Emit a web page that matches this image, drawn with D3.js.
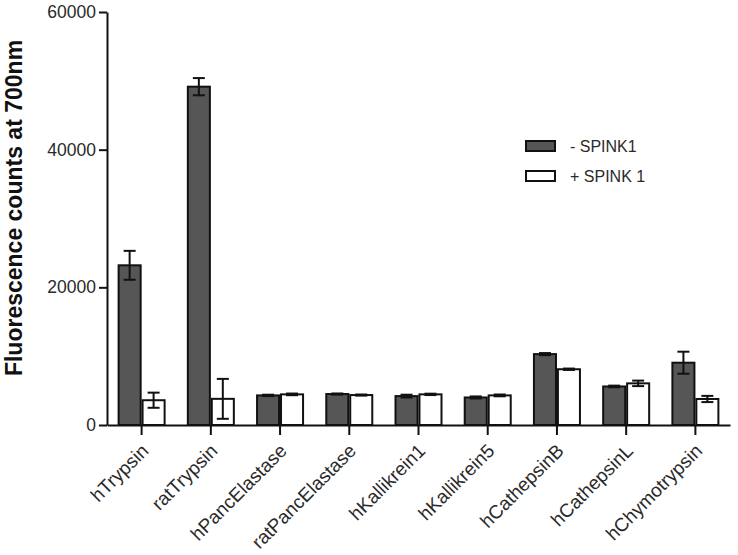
<!DOCTYPE html>
<html>
<head>
<meta charset="utf-8">
<script src="https://cdn.jsdelivr.net/npm/d3@7"></script>
<style>
  body { margin: 0; background: #fff; }
  svg { display: block; font-family: "Liberation Sans", Arial, sans-serif; }
</style>
</head>
<body>
<svg id="chart" width="738" height="555"></svg>
<script>
// enzyme names on the x axis
var categories = ["hTrypsin", "ratTrypsin", "hPancElastase", "ratPancElastase",
                  "hKallikrein1", "hKallikrein5", "hCathepsinB", "hCathepsinL", "hChymotrypsin"];
var seriesNames = ["- SPINK1", "+ SPINK 1"];

// means
var minusSpink = [23200, 49150, 4300, 4500, 4200, 4000, 10300, 5600, 9050];
var plusSpink  = [3600, 3800, 4450, 4350, 4450, 4300, 8100, 6050, 3780];
// error bar half lengths
var minusErr = [2100, 1250, 100, 80, 200, 150, 150, 120, 1600];
var plusErr  = [1100, 2900, 120, 80, 100, 130, 100, 400, 450];

var yTicks = [0, 20000, 40000, 60000];

var svg = d3.select("#chart");

var x0 = d3.scaleBand()
    .domain(categories)
    .range([107, 730])
    .padding(0);

var x1 = d3.scaleBand()
    .domain(seriesNames)
    .range([-23, 23])
    .paddingInner(0.08);

var y = d3.scaleLinear()
    .domain([0, 60000])
    .range([425, 12]);

var fills = ["#565656", "#ffffff"];

var rows = categories.map(function(c, i) {
    return [
        { cat: c, s: seriesNames[0], v: minusSpink[i], e: minusErr[i] },
        { cat: c, s: seriesNames[1], v: plusSpink[i], e: plusErr[i] }
    ];
});

// bars
var groups = svg.append("g")
    .selectAll("g")
    .data(rows)
    .enter().append("g")
    .attr("transform", function(d) { return "translate(" + (x0(d[0].cat) + x0.bandwidth() / 2) + ",0)"; });

groups.selectAll("rect")
    .data(function(d) { return d; })
    .enter().append("rect")
    .attr("x", function(d) { return x1(d.s); })
    .attr("y", function(d) { return y(d.v); })
    .attr("width", x1.bandwidth())
    .attr("height", function(d) { return y(0) - y(d.v); })
    .style("fill", function(d, i) { return fills[i]; })
    .style("stroke", "#111")
    .style("stroke-width", 2);

// error bars
var eb = groups.selectAll("g.err")
    .data(function(d) { return d; })
    .enter().append("g")
    .attr("class", "err")
    .attr("transform", function(d) { return "translate(" + (x1(d.s) + x1.bandwidth() / 2) + ",0)"; })
    .style("stroke", "#111")
    .style("stroke-width", 2);

eb.append("line")
    .attr("x1", 0).attr("x2", 0)
    .attr("y1", function(d) { return y(d.v + d.e); })
    .attr("y2", function(d) { return y(d.v - d.e); });
eb.append("line")
    .attr("x1", -6).attr("x2", 6)
    .attr("y1", function(d) { return y(d.v + d.e); })
    .attr("y2", function(d) { return y(d.v + d.e); });
eb.append("line")
    .attr("x1", -6).attr("x2", 6)
    .attr("y1", function(d) { return y(d.v - d.e); })
    .attr("y2", function(d) { return y(d.v - d.e); });

// y axis
var yAxis = svg.append("g")
    .attr("transform", "translate(107,0)")
    .call(d3.axisLeft(y).tickValues(yTicks).tickFormat(d3.format("d")).tickSize(8).tickSizeOuter(0));
yAxis.select(".domain").style("stroke", "#111").style("stroke-width", 2);
yAxis.selectAll(".tick line").style("stroke", "#111").style("stroke-width", 2);
yAxis.selectAll(".tick text")
    .attr("x", -11)
    .style("font-size", "17.5px")
    .style("fill", "#2a2a2a")
    .style("font-family", "Liberation Sans, Arial, sans-serif");

// x axis
var xAxis = svg.append("g")
    .attr("transform", "translate(0,425)")
    .call(d3.axisBottom(x0).tickSize(10).tickSizeOuter(0));
xAxis.select(".domain").style("stroke", "#111").style("stroke-width", 2);
xAxis.selectAll(".tick line").style("stroke", "#111").style("stroke-width", 2);
xAxis.selectAll(".tick text")
    .attr("x", 8)
    .attr("y", 27)
    .attr("dy", 0)
    .attr("transform", "rotate(-45 8 27)")
    .style("text-anchor", "end")
    .style("font-size", "19px")
    .style("fill", "#2a2a2a")
    .style("font-family", "Liberation Sans, Arial, sans-serif");

// y label
svg.append("text")
    .attr("transform", "translate(22,208) rotate(-90)")
    .style("text-anchor", "middle")
    .style("font-size", "23px")
    .style("font-weight", "bold")
    .style("fill", "#111")
    .text("Fluorescence counts at 700nm");

// legend
var legend = svg.append("g")
    .attr("transform", "translate(526,141)")
    .selectAll("g")
    .data(seriesNames)
    .enter().append("g")
    .attr("transform", function(d, i) { return "translate(0," + (i * 30) + ")"; });

legend.append("rect")
    .attr("width", 29)
    .attr("height", 10)
    .style("fill", function(d, i) { return fills[i]; })
    .style("stroke", "#111")
    .style("stroke-width", 2);

legend.append("text")
    .attr("x", 44)
    .attr("y", 11)
    .style("font-size", "16px")
    .style("fill", "#2a2a2a")
    .text(function(d) { return d; });
</script>
</body>
</html>
